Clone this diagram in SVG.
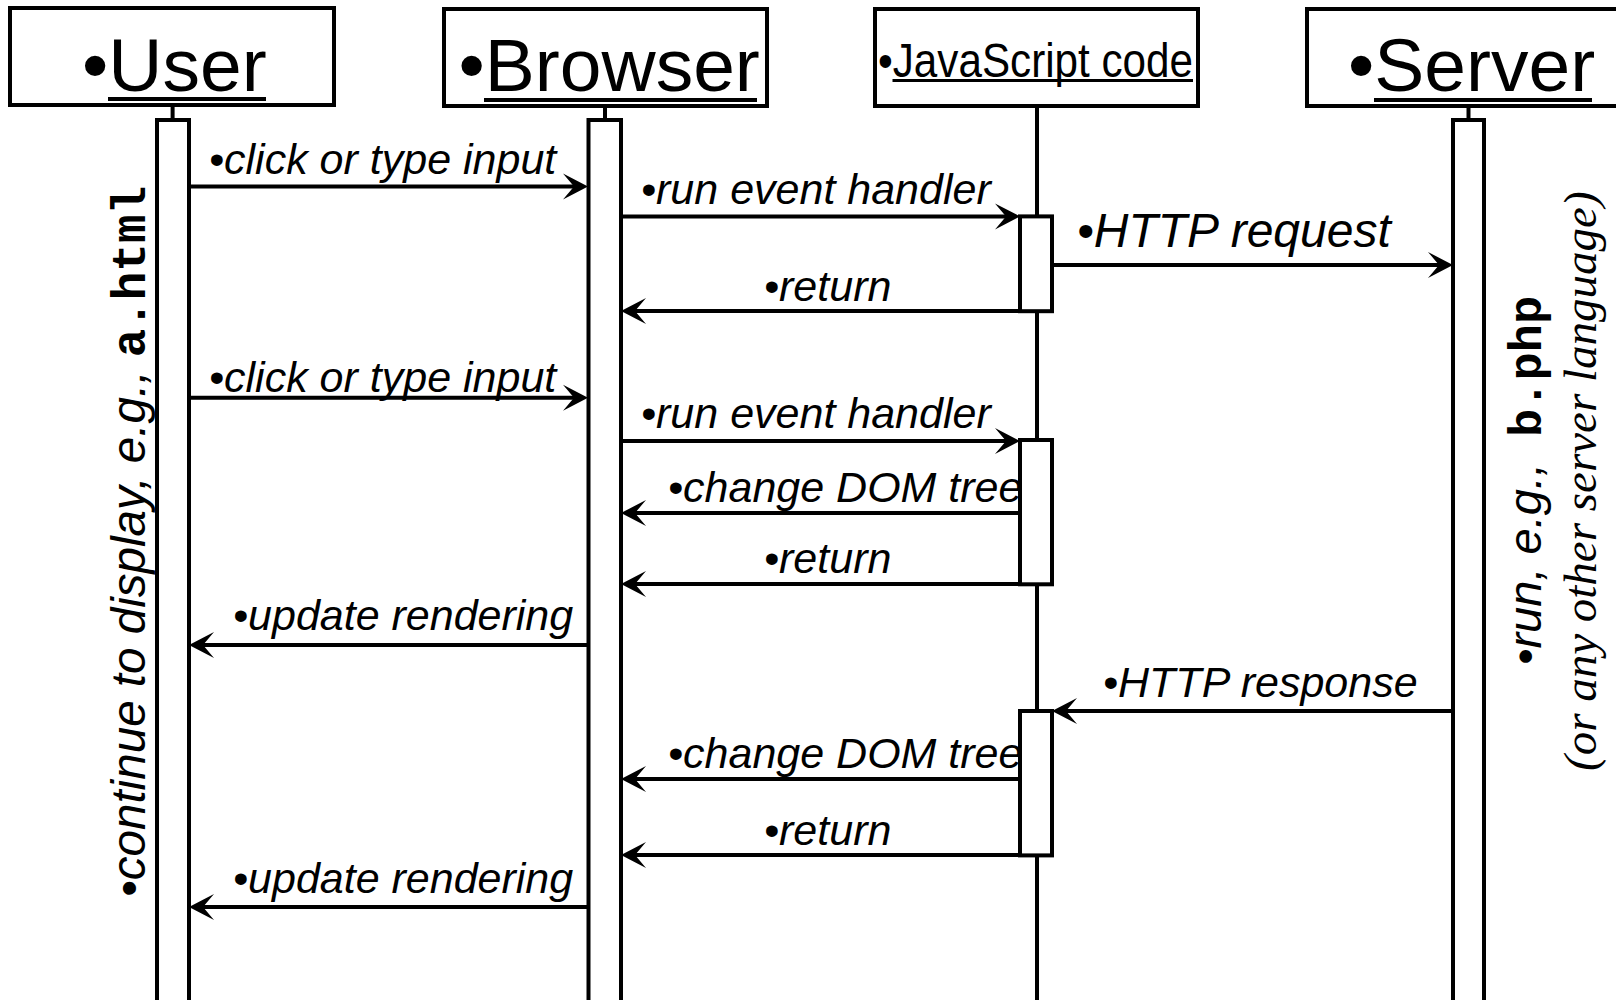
<svg xmlns="http://www.w3.org/2000/svg" width="1616" height="1000" viewBox="0 0 1616 1000">
<style>
.box{fill:#fff;stroke:#000;stroke-width:4}
.ln{stroke:#000;stroke-width:4;fill:none}
.msg{stroke:#000;stroke-width:4;fill:none;marker-end:url(#ah)}
.hdr{font-family:"Liberation Sans",Arial,sans-serif;font-size:75px;fill:#000}
.lbl{font-family:"Liberation Sans",Arial,sans-serif;font-size:43px;font-style:italic;fill:#000}
.side{font-family:"Liberation Sans",Arial,sans-serif;font-size:47px;font-style:italic;fill:#000;white-space:pre}
.mono{font-family:"Liberation Mono","Courier New",monospace;font-weight:bold;font-style:normal}
.ul{fill:#000}
</style>
<defs>
<marker id="ah" markerUnits="userSpaceOnUse" markerWidth="40" markerHeight="40" viewBox="-30 -20 40 40" refX="0" refY="0" orient="auto" overflow="visible">
<path d="M6,0 L-19,-13 L-8,0 L-19,13 Z" fill="#000"/>
</marker>
</defs>
<rect width="1616" height="1000" fill="#fff"/>

<g id="user">
<rect class="box" x="10" y="8" width="324" height="97"/>
<text class="hdr" x="82" y="91">•User</text>
<rect class="ul" x="108" y="97" width="158" height="4"/>
<line class="ln" x1="172.6" y1="105" x2="172.6" y2="120"/>
<rect class="box" x="157" y="120" width="32" height="900"/>
</g>

<g id="browser">
<rect class="box" x="444" y="9" width="323" height="97"/>
<text class="hdr" x="458.5" y="91">•Browser</text>
<rect class="ul" x="484" y="98" width="273" height="4"/>
<line class="ln" x1="605" y1="106" x2="605" y2="120"/>
<rect class="box" x="588.5" y="120" width="32.5" height="900"/>
</g>

<g id="javascript">
<rect class="box" x="875" y="9" width="323" height="97"/>
<text class="hdr" x="878" y="77" style="font-size:48px" textLength="315" lengthAdjust="spacingAndGlyphs">•JavaScript code</text>
<rect class="ul" x="892.5" y="79" width="300.5" height="3"/>
<line class="ln" x1="1037" y1="106" x2="1037" y2="1000"/>
<rect class="box" x="1020" y="216.4" width="32" height="94.8"/>
<rect class="box" x="1020" y="440" width="32" height="144.3"/>
<rect class="box" x="1020" y="711" width="32" height="144.4"/>
</g>

<g id="server">
<rect class="box" x="1307" y="9" width="330" height="97"/>
<text class="hdr" x="1348" y="91">•Server</text>
<rect class="ul" x="1374" y="98" width="218" height="4"/>
<line class="ln" x1="1468.5" y1="106" x2="1468.5" y2="120"/>
<rect class="box" x="1453" y="120" width="31" height="900"/>
</g>

<g id="connectors">
<line class="msg" x1="189" y1="186.5" x2="582" y2="186.5"/>
<line class="msg" x1="621" y1="216.4" x2="1014" y2="216.4"/>
<line class="msg" x1="1052" y1="265" x2="1447" y2="265"/>
<line class="msg" x1="1020" y1="311" x2="627" y2="311"/>
<line class="msg" x1="189" y1="397.8" x2="582" y2="397.8"/>
<line class="msg" x1="621" y1="441" x2="1014" y2="441"/>
<line class="msg" x1="1020" y1="513" x2="627" y2="513"/>
<line class="msg" x1="1020" y1="584" x2="627" y2="584"/>
<line class="msg" x1="588" y1="645" x2="195" y2="645"/>
<line class="msg" x1="1453" y1="711" x2="1058" y2="711"/>
<line class="msg" x1="1020" y1="779" x2="627" y2="779"/>
<line class="msg" x1="1020" y1="855" x2="627" y2="855"/>
<line class="msg" x1="588" y1="907" x2="195" y2="907"/>
</g>

<g id="labels">
<text class="lbl" x="209" y="174">•click or type input</text>
<text class="lbl" x="641" y="204">•run event handler</text>
<text class="lbl" x="1077" y="247" style="font-size:48px">•HTTP request</text>
<text class="lbl" x="764" y="301">•return</text>
<text class="lbl" x="209" y="391.6">•click or type input</text>
<text class="lbl" x="641" y="427.7">•run event handler</text>
<text class="lbl" x="668" y="502">•change DOM tree</text>
<text class="lbl" x="764" y="573">•return</text>
<text class="lbl" x="233" y="630">•update rendering</text>
<text class="lbl" x="1103" y="697">•HTTP response</text>
<text class="lbl" x="668" y="768">•change DOM tree</text>
<text class="lbl" x="764" y="845">•return</text>
<text class="lbl" x="233" y="892.5">•update rendering</text>
</g>

<g id="notes">
<text class="side" transform="translate(145,897) rotate(-90)" style="font-size:47.6px">•continue to display, e.g., <tspan class="mono">a.html</tspan></text>
<text class="side" transform="translate(1541,665) rotate(-90)">•run, e.g.,  <tspan class="mono">b.php</tspan></text>
<text class="side" transform="translate(1596,771) rotate(-90)" style="font-family:'Liberation Serif','Times New Roman',serif">(or any other server language)</text>
</g>
</svg>
